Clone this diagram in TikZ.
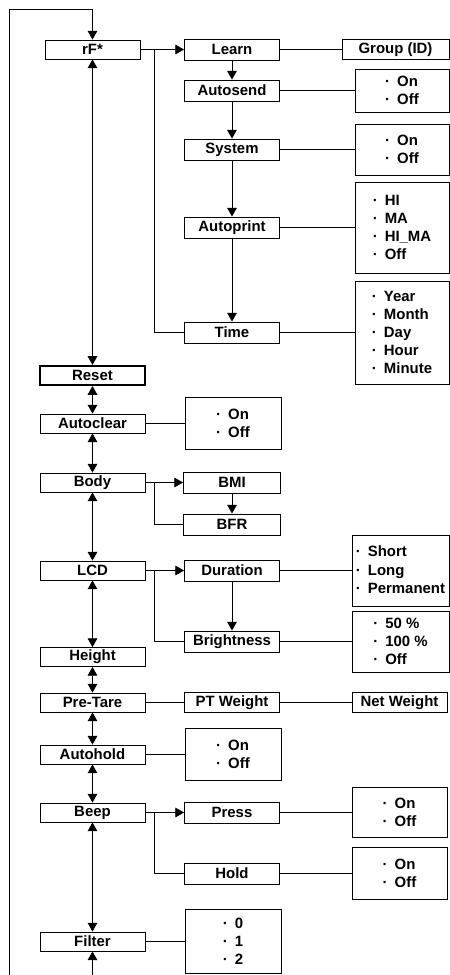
\documentclass[tikz,border=0pt]{standalone}
\usepackage{fontspec}
\setmainfont{Liberation Sans}
\usetikzlibrary{arrows.meta}

\newcommand{\dotitem}{·\hspace{4pt}}

\tikzset{
  menubox/.style={draw, line width=0.5pt, inner sep=0pt, minimum width=2.1cm, minimum height=0.38cm,
    font=\fontsize{8.5}{10.2}\selectfont\bfseries},
  subbox/.style={menubox, minimum width=1.9cm, minimum height=0.42cm},
  optbox/.style={menubox, align=left},
  >={Triangle[length=5pt,width=5.5pt]},
}

\begin{document}
\begin{tikzpicture}[x=0.02cm, y=-0.02cm, line width=0.5pt]
  \useasboundingbox (0,0) rectangle (450,975);

  \node[menubox, minimum width=1.9cm] (rf) at (92.5, 49.5) {rF*};
  \node[menubox, line width=1.2pt] (reset) at (92.5, 375.5) {Reset};
  \node[menubox] (autoclear) at (92.5, 423.5) {Autoclear};
  \node[menubox] (body) at (92.5, 482.5) {Body};
  \node[menubox] (lcd) at (92.5, 570.5) {LCD};
  \node[menubox] (height) at (92.5, 657) {Height};
  \node[menubox] (pretare) at (92.5, 702.5) {Pre-Tare};
  \node[menubox] (autohold) at (92.5, 754.5) {Autohold};
  \node[menubox] (beep) at (92.5, 812.5) {Beep};
  \node[menubox] (filter) at (92.5, 941.5) {Filter};

  \node[subbox] (learn) at (232, 49.5) {Learn};
  \node[subbox] (autosend) at (232, 90.5) {Autosend};
  \node[subbox] (system) at (232, 149.5) {System};
  \node[subbox] (autoprint) at (232, 227.5) {Autoprint};
  \node[subbox] (time) at (232, 332.5) {Time};
  \node[subbox, minimum width=1.94cm] (bmi) at (232, 482.5) {BMI};
  \node[subbox, minimum width=1.94cm] (bfr) at (232, 524.5) {BFR};
  \node[subbox] (duration) at (232, 570.5) {Duration};
  \node[subbox] (brightness) at (232, 641.5) {Brightness};
  \node[subbox, minimum height=0.4cm] (ptweight) at (232, 702.5) {PT Weight};
  \node[subbox] (press) at (232, 812.5) {Press};
  \node[subbox] (hold) at (232, 873.5) {Hold};

  \node[optbox, minimum width=1.92cm, minimum height=1.04cm] (autoclearopt) at (233, 423.5) {\dotitem On\\\dotitem Off};
  \node[optbox, minimum width=1.92cm, minimum height=1.04cm] (autoholdopt) at (233, 754.5) {\dotitem On\\\dotitem Off};
  \node[optbox, minimum width=1.92cm, minimum height=1.28cm] (filteropt) at (233, 941.5) {\dotitem 0\\\dotitem 1\\\dotitem 2};

  \node[subbox, minimum width=2.14cm, minimum height=0.4cm] (group) at (395.5, 49.5) {Group (ID)};
  \node[optbox, minimum width=1.88cm, minimum height=0.86cm] (autosendopt) at (402, 90.5) {\dotitem On\\\dotitem Off};
  \node[optbox, minimum width=1.88cm, minimum height=1.02cm] (systemopt) at (402, 149.5) {\dotitem On\\\dotitem Off};
  \node[optbox, minimum width=1.88cm, minimum height=1.82cm] (autoprintopt) at (402, 227.5)
    {\dotitem HI\\\dotitem MA\\\dotitem HI\_MA\\\dotitem Off};
  \node[optbox, minimum width=1.88cm, minimum height=2.06cm] (timeopt) at (402, 332.5)
    {\dotitem Year\\\dotitem Month\\\dotitem Day\\\dotitem Hour\\\dotitem Minute};
  \node[optbox, minimum width=1.94cm, minimum height=1.42cm, text depth=1pt] (durationopt) at (400.5, 570.5)
    {\dotitem Short\\[1pt]\dotitem Long\\\dotitem Permanent};
  \node[optbox, minimum width=1.94cm, minimum height=1.22cm] (brightnessopt) at (400.5, 641.5)
    {\dotitem 50 \%\\\dotitem 100 \%\\\dotitem Off};
  \node[subbox, minimum height=0.4cm] (netweight) at (399.5, 702.5) {Net Weight};
  \node[optbox, minimum width=1.9cm, minimum height=1.0cm] (pressopt) at (399.5, 812.5) {\dotitem On\\\dotitem Off};
  \node[optbox, minimum width=1.9cm, minimum height=1.04cm] (holdopt) at (399.5, 873.5) {\dotitem On\\\dotitem Off};

  \coordinate (loopbot) at (9, 975);
  \coordinate (looptop) at (9, 9);
  \coordinate (filterbot) at (92.5, 975);

  \draw[->] (loopbot) -- (looptop) -| (rf);
  \draw[->] (filterbot) -- (filter);
  \draw[<->] (rf) -- (reset);
  \draw[<->] (reset) -- (autoclear);
  \draw[<->] (autoclear) -- (body);
  \draw[<->] (body) -- (lcd);
  \draw[<->] (lcd) -- (height);
  \draw[<->] (height) -- (pretare);
  \draw[<->] (pretare) -- (autohold);
  \draw[<->] (autohold) -- (beep);
  \draw[<->] (beep) -- (filter);

  \draw[->] (rf) -- (learn);
  \draw (rf.east) ++(14,0) |- (time);
  \draw[->] (learn) -- (autosend);
  \draw[->] (autosend) -- (system);
  \draw[->] (system) -- (autoprint);
  \draw[->] (autoprint) -- (time);
  \draw (learn) -- (group);
  \draw (autosend) -- (autosendopt);
  \draw (system) -- (systemopt);
  \draw (autoprint) -- (autoprintopt);
  \draw (time) -- (timeopt);

  \draw (autoclear) -- (autoclearopt);
  \draw[->] (body) -- (bmi);
  \draw (body.east) ++(9,0) |- (bfr);
  \draw[->] (bmi) -- (bfr);
  \draw[->] (lcd) -- (duration);
  \draw (lcd.east) ++(9,0) |- (brightness);
  \draw[->] (duration) -- (brightness);
  \draw (duration) -- (durationopt);
  \draw (brightness) -- (brightnessopt);
  \draw (pretare) -- (ptweight);
  \draw (ptweight) -- (netweight);
  \draw (autohold) -- (autoholdopt);
  \draw[->] (beep) -- (press);
  \draw (beep.east) ++(9,0) |- (hold);
  \draw (press) -- (pressopt);
  \draw (hold) -- (holdopt);
  \draw (filter) -- (filteropt);
\end{tikzpicture}
\end{document}
